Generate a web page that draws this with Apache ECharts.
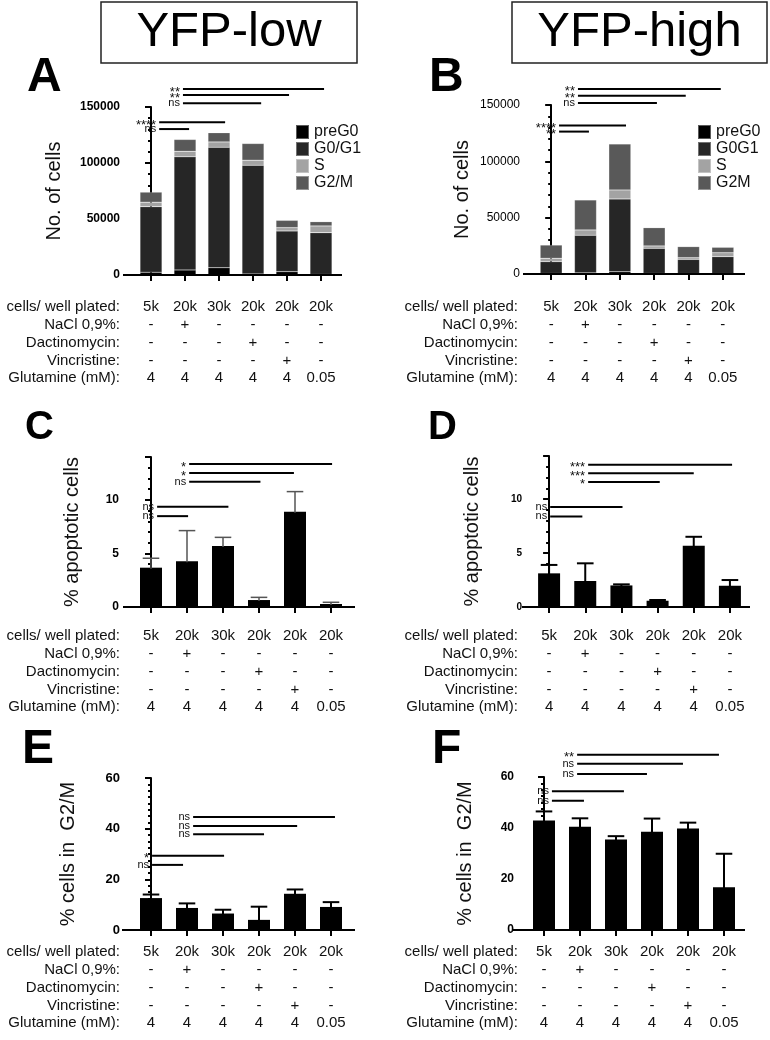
<!DOCTYPE html>
<html lang="en">
<head>
<meta charset="utf-8">
<title>YFP-low / YFP-high cell counts</title>
<script src="https://cdn.jsdelivr.net/npm/echarts@6/dist/echarts.min.js"></script>
<style>
  html, body { margin: 0; padding: 0; background: #fff; }
  #chart { width: 770px; height: 1040px; }
</style>
</head>
<body>
<div id="chart"></div>
<script>
// treatment table, shared by all six panels
const cellsPlated = ['5k', '20k', '30k', '20k', '20k', '20k'];
const nacl = ['-', '+', '-', '-', '-', '-'];
const dactinomycin = ['-', '-', '-', '+', '-', '-'];
const vincristine = ['-', '-', '-', '-', '+', '-'];
const glutamine = ['4', '4', '4', '4', '4', '0.05'];
const rowLabels = ['cells/ well plated:', 'NaCl 0,9%:', 'Dactinomycin:', 'Vincristine:', 'Glutamine (mM):'];

// A - YFP-low cell numbers per phase
const lowNames = ['preG0', 'G0/G1', 'S', 'G2/M'];
const lowPreG0 = [2500, 4500, 6500, 1000, 3000, 500];
const lowG0G1 = [58500, 101000, 107500, 97000, 36300, 37300];
const lowS = [4000, 5000, 4800, 4500, 3000, 6000];
const lowG2M = [9000, 10500, 8200, 14900, 6500, 3800];

// B - YFP-high cell numbers per phase
const highNames = ['preG0', 'G0G1', 'S', 'G2M'];
const highPreG0 = [500, 1000, 2000, 500, 300, 300];
const highG0G1 = [10500, 33400, 64600, 22300, 12700, 15100];
const highS = [3000, 4700, 8000, 2100, 1500, 3500];
const highG2M = [11700, 26600, 40800, 16200, 9800, 4800];

// C / D - % apoptotic cells (mean, upper error)
const apoLowMean = [3.67, 4.27, 5.7, 0.65, 8.9, 0.28];
const apoLowErr = [0.88, 2.86, 0.8, 0.25, 1.87, 0.16];
const apoHighMean = [3.12, 2.41, 2.0, 0.58, 5.68, 1.97];
const apoHighErr = [0.78, 1.64, 0.1, 0.07, 0.83, 0.53];

// E / F - % cells in G2/M (mean, upper error)
const g2mLowMean = [12.6, 8.7, 6.5, 4.0, 14.3, 9.1];
const g2mLowErr = [1.4, 1.8, 1.5, 5.2, 1.7, 1.9];
const g2mHighMean = [42.9, 40.5, 35.5, 38.5, 39.8, 16.8];
const g2mHighErr = [3.6, 3.3, 1.3, 5.2, 2.3, 13.1];

// significance bars: [from category, to category, y value, label]
const sigA = [[0.94, 5.09, 166000, '**'], [0.94, 4.06, 160700, '**'], [0.94, 3.24, 153300, 'ns'], [0.24, 2.18, 136300, '****'], [0.24, 1.12, 130300, 'ns']];
const sigB = [[0.78, 4.94, 164300, '**'], [0.78, 3.92, 158300, '**'], [0.78, 3.08, 151800, 'ns'], [0.23, 2.18, 131700, '****'], [0.23, 1.10, 126400, '**']];
const sigC = [[1.06, 5.03, 13.34, '*'], [1.06, 3.97, 12.5, '*'], [1.06, 3.04, 11.7, 'ns'], [0.17, 2.15, 9.35, 'ns'], [0.17, 1.03, 8.48, 'ns']];
const sigD = [[1.08, 5.06, 13.2, '***'], [1.08, 4.0, 12.4, '***'], [1.08, 3.06, 11.6, '*'], [0.03, 2.03, 9.26, 'ns'], [0.03, 0.92, 8.4, 'ns']];
const sigE = [[1.17, 5.11, 44.6, 'ns'], [1.17, 4.06, 41.1, 'ns'], [1.17, 3.14, 37.8, 'ns'], [0.03, 2.03, 29.3, '*'], [0.03, 0.89, 25.7, 'ns']];
const sigF = [[0.92, 4.86, 68.7, '**'], [0.92, 3.86, 65.2, 'ns'], [0.92, 2.86, 61.2, 'ns'], [0.22, 2.22, 54.4, 'ns'], [0.22, 1.11, 50.7, 'ns']];

const FONT = '"Liberation Sans", Arial, Helvetica, sans-serif';
const phaseColors = ['#000000', '#262626', '#a3a3a3', '#595959'];
const tableRows = [cellsPlated, nacl, dactinomycin, vincristine, glutamine];
const ROW_H = 17.8;

// layout of the six panels
const panels = [
    { grid: [134, 107, 204, 168], yOffset: 7, max: 150000, interval: 50000, minor: 5,
      tick: { size: 12, weight: 'bold', margin: 7 }, showMax: true,
      name: 'No. of cells', nameGap: 63, xEnd: 342, tableGap: 32, labelRight: 120,
      letter: 'A', letterPos: [27, 78], letterSize: 48, sig: sigA },
    { grid: [534, 105, 206, 169], yOffset: 7, max: 150000, interval: 50000, minor: 5,
      tick: { size: 12, weight: 'normal', margin: 7 }, showMax: true,
      name: 'No. of cells', nameGap: 55, xEnd: 745, tableGap: 33, labelRight: 518,
      letter: 'B', letterPos: [429, 78], letterSize: 48, sig: sigB },
    { grid: [133, 457, 216, 150], yOffset: 6, max: 14, interval: 5, minor: 5,
      tick: { size: 12, weight: 'bold', margin: 8 }, showMax: false,
      name: '% apoptotic cells', nameGap: 45, xEnd: 355, tableGap: 29, labelRight: 120,
      letter: 'C', letterPos: [25, 428], letterSize: 40, sig: sigC,
      mean: apoLowMean, err: apoLowErr, errColor: '#555', errWidth: 1.5 },
    { grid: [531, 456, 217, 151], yOffset: 5, max: 14, interval: 5, minor: 5,
      tick: { size: 10, weight: 'bold', margin: 4 }, showMax: false,
      name: '% apoptotic cells', nameGap: 44, xEnd: 750, tableGap: 29, labelRight: 518,
      letter: 'D', letterPos: [428, 428], letterSize: 40, sig: sigD,
      mean: apoHighMean, err: apoHighErr, errColor: '#000', errWidth: 2 },
    { grid: [133, 778, 216, 152], yOffset: 7, max: 60, interval: 20, minor: 8,
      tick: { size: 13, weight: 'bold', margin: 6 }, showMax: true,
      name: '% cells in  G2/M', nameGap: 48, xEnd: 355, tableGap: 22, labelRight: 120,
      letter: 'E', letterPos: [22, 750], letterSize: 48, sig: sigE,
      mean: g2mLowMean, err: g2mLowErr, errColor: '#000', errWidth: 2 },
    { grid: [526, 777, 216, 153], yOffset: 9, max: 60, interval: 20, minor: 8,
      tick: { size: 12, weight: 'bold', margin: 3 }, showMax: true,
      name: '% cells in  G2/M', nameGap: 42, xEnd: 745, tableGap: 22, labelRight: 518,
      letter: 'F', letterPos: [432, 750], letterSize: 48, sig: sigF,
      mean: g2mHighMean, err: g2mHighErr, errColor: '#000', errWidth: 2 }
];

const chart = echarts.init(document.getElementById('chart'));

const grids = [], xAxes = [], yAxes = [], series = [], graphics = [];

panels.forEach((p, i) => {
    grids.push({ left: p.grid[0], top: p.grid[1], width: p.grid[2], height: p.grid[3],
                 containLabel: false, outerBoundsMode: 'none' });

    // category axis for the bars
    xAxes.push({
        type: 'category', gridIndex: i, data: cellsPlated,
        axisLine: { show: true, lineStyle: { color: '#000', width: 2 } },
        axisTick: { show: true, alignWithLabel: true, length: 6, lineStyle: { color: '#000', width: 2 } },
        axisLabel: { show: false }, splitLine: { show: false }
    });
    // hidden value axis over the same bands, for annotations
    xAxes.push({ type: 'value', gridIndex: i, min: -0.5, max: 5.5, show: false, splitLine: { show: false } });

    yAxes.push({
        type: 'value', gridIndex: i, min: 0, max: p.max, interval: p.interval, offset: p.yOffset,
        axisLine: { show: true, lineStyle: { color: '#000', width: 2 } },
        axisTick: { show: true, length: 6, lineStyle: { color: '#000', width: 2 } },
        minorTick: { show: true, splitNumber: p.minor, length: 3, lineStyle: { color: '#000', width: 2 } },
        splitLine: { show: false }, minorSplitLine: { show: false },
        axisLabel: { margin: p.tick.margin, fontSize: p.tick.size, fontWeight: p.tick.weight,
                     color: '#000', fontFamily: FONT, showMaxLabel: p.showMax,
                     formatter: v => String(v) },
        name: p.name, nameLocation: 'middle', nameRotate: 90, nameGap: p.nameGap, nameMoveOverlap: false,
        nameTextStyle: { fontSize: 20, color: '#111', fontFamily: FONT }
    });

    const catIdx = i * 2, valIdx = i * 2 + 1;

    if (p.mean) {
        series.push({
            type: 'bar', xAxisIndex: catIdx, yAxisIndex: i, data: p.mean, barWidth: 22,
            itemStyle: { color: '#000' }, silent: true
        });
        const errColor = p.errColor, errWidth = p.errWidth;
        series.push({
            type: 'custom', xAxisIndex: valIdx, yAxisIndex: i, clip: false, silent: true, z: 3,
            data: p.mean.map((m, k) => [k, m, p.err[k]]),
            renderItem: (params, api) => {
                const x = api.value(0), m = api.value(1), e = api.value(2);
                const base = api.coord([x, m]);
                const top = api.coord([x, m + e]);
                const half = api.size([1, 0])[0] * 0.23;
                const st = { stroke: errColor, lineWidth: errWidth };
                return { type: 'group', children: [
                    { type: 'line', shape: { x1: base[0], y1: base[1] + 1, x2: top[0], y2: top[1] }, style: st },
                    { type: 'line', shape: { x1: top[0] - half, y1: top[1], x2: top[0] + half, y2: top[1] }, style: st }
                ] };
            }
        });
    }

    // significance bars
    const sig = p.sig;
    series.push({
        type: 'custom', xAxisIndex: valIdx, yAxisIndex: i, clip: false, silent: true,
        data: sig.map(s => [s[0], s[1], s[2]]),
        renderItem: (params, api) => {
            const a = api.coord([api.value(0), api.value(2)]);
            const b = api.coord([api.value(1), api.value(2)]);
            const label = sig[params.dataIndex][3];
            const star = label.indexOf('*') >= 0;
            return { type: 'group', children: [
                { type: 'line', shape: { x1: a[0], y1: a[1], x2: b[0], y2: b[1] },
                  style: { stroke: '#000', lineWidth: 2 } },
                { type: 'text', x: a[0] - 3, y: a[1] + (star ? 3 : 0),
                  style: { text: label, font: (star ? '13px ' : '11px ') + FONT, fill: '#111',
                           textAlign: 'right', textVerticalAlign: 'middle' } }
            ] };
        }
    });

    // treatment table under the axis
    const tableData = [];
    tableRows.forEach((row, r) => row.forEach((v, c) => tableData.push([c, r])));
    const gap = p.tableGap;
    series.push({
        type: 'custom', xAxisIndex: valIdx, yAxisIndex: i, clip: false, silent: true,
        data: tableData,
        renderItem: (params, api) => {
            const c = api.value(0), r = api.value(1);
            const pt = api.coord([c, 0]);
            return { type: 'text', x: pt[0], y: pt[1] + gap + r * ROW_H,
                     style: { text: tableRows[r][c], font: '15px ' + FONT, fill: '#111',
                              textAlign: 'center', textVerticalAlign: 'middle' } };
        }
    });

    const bottom = p.grid[1] + p.grid[3];
    const axisX = p.grid[0] - p.yOffset;
    rowLabels.forEach((lab, r) => {
        graphics.push({ type: 'text', x: p.labelRight, y: bottom + gap + r * ROW_H, silent: true,
                        style: { text: lab, font: '15px ' + FONT, fill: '#111',
                                 textAlign: 'right', textVerticalAlign: 'middle' } });
    });
    // baseline running from the y axis to the end of the plot
    graphics.push({ type: 'line', silent: true, z: 5,
                    shape: { x1: axisX - 4, y1: bottom, x2: p.xEnd, y2: bottom },
                    style: { stroke: '#000', lineWidth: 2 } });
    // panel letter
    graphics.push({ type: 'text', x: p.letterPos[0], y: p.letterPos[1], silent: true,
                    style: { text: p.letter, font: 'bold ' + p.letterSize + 'px ' + FONT, fill: '#000',
                             textAlign: 'left', textVerticalAlign: 'middle' } });
});

// stacked phase bars for A and B
[[lowNames, [lowPreG0, lowG0G1, lowS, lowG2M], 0, 'low'],
 [highNames, [highPreG0, highG0G1, highS, highG2M], 1, 'high']].forEach(([names, sets, gi, stack]) => {
    sets.forEach((vals, k) => {
        series.push({
            type: 'bar', name: names[k], xAxisIndex: gi * 2, yAxisIndex: gi, stack: stack,
            data: vals, barWidth: 22, silent: true,
            itemStyle: { color: phaseColors[k], borderColor: 'rgba(255,255,255,0.35)', borderWidth: 0.5 }
        });
    });
});

// column titles
[['YFP-low', 101, 256], ['YFP-high', 512, 255]].forEach(([txt, x, w]) => {
    graphics.push({ type: 'rect', silent: true, shape: { x: x, y: 2, width: w, height: 61 },
                    style: { fill: '#fff', stroke: '#222', lineWidth: 1.5 } });
    graphics.push({ type: 'text', x: x + w / 2, y: 32, silent: true,
                    style: { text: txt, font: '49px ' + FONT, fill: '#000',
                             textAlign: 'center', textVerticalAlign: 'middle' } });
});

const legendBase = {
    orient: 'vertical', top: 124, itemWidth: 13, itemHeight: 14, itemGap: 1, icon: 'rect',
    selectedMode: false, padding: 0,
    textStyle: { fontSize: 16, color: '#111', fontFamily: FONT }
};

chart.setOption({
    animation: false,
    backgroundColor: '#fff',
    textStyle: { fontFamily: FONT },
    grid: grids,
    xAxis: xAxes,
    yAxis: yAxes,
    legend: [
        Object.assign({}, legendBase, { left: 295, data: lowNames }),
        Object.assign({}, legendBase, { left: 697, data: highNames })
    ],
    graphic: graphics,
    series: series
});

window.addEventListener('resize', () => chart.resize());
</script>
</body>
</html>
